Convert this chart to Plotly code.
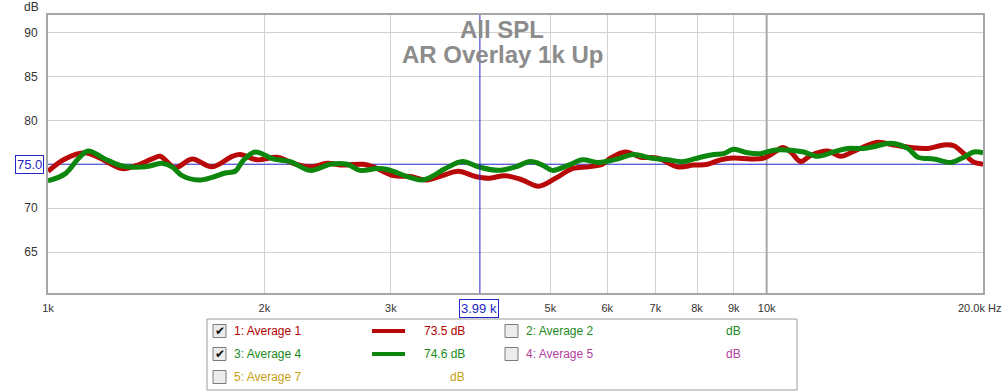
import plotly.graph_objects as go

# ---------------- data ----------------
red_freq = [1000, 1056, 1126, 1174, 1268, 1322, 1396, 1432, 1503, 1587, 1692, 1805, 1851, 1955,
            2084, 2194, 2317, 2447, 2575, 2746, 2836, 3024, 3193, 3350, 3538, 3724, 3932, 4101,
            4330, 4574, 4814, 5084, 5368, 5651, 5909, 6062, 6363, 6675, 7050, 7516, 7912, 8276,
            8628, 8995, 9500, 9904, 10226, 10526, 10800, 11151, 11515, 12162, 12680, 13390,
            14274, 15025, 15867, 16757, 17640, 18216, 18810, 19360, 20000]
red_db = [74.2, 75.6, 76.3, 75.8, 74.5, 74.8, 75.6, 75.9, 74.6, 75.6, 74.7, 75.9, 76.1, 75.5,
          75.8, 75.1, 74.7, 75.1, 74.9, 75.0, 74.7, 73.7, 73.6, 73.2, 73.7, 74.2, 73.6, 73.4,
          73.7, 73.2, 72.5, 73.4, 74.5, 74.7, 75.0, 75.7, 76.4, 75.8, 75.7, 74.7, 74.9, 75.0,
          75.5, 75.7, 75.6, 75.7, 76.3, 76.9, 76.4, 75.3, 76.0, 76.5, 75.9, 76.7,
          77.5, 77.2, 76.9, 76.8, 77.2, 77.1, 76.2, 75.3, 75.0]

green_freq = [1000, 1056, 1101, 1137, 1200, 1268, 1365, 1441, 1488, 1537, 1618, 1692, 1764, 1822,
              1868, 1942, 2057, 2173, 2317, 2471, 2609, 2719, 2872, 2966, 3162, 3298, 3383, 3573,
              3772, 3971, 4235, 4472, 4692, 4875, 5035, 5301, 5544, 5834, 6201, 6528, 6894, 7280,
              7661, 8090, 8435, 8710, 8995, 9408, 9808, 10226, 10800, 11259, 11776, 12396, 12966,
              13650, 14093, 14880, 15720, 16232, 17087, 18040, 18810, 19427, 20000]
green_db = [73.1, 73.9, 75.6, 76.5, 75.6, 74.8, 74.7, 75.1, 74.7, 73.7, 73.2, 73.5, 74.0, 74.2,
            75.4, 76.4, 75.6, 75.3, 74.3, 75.0, 75.0, 74.3, 74.5, 74.4, 73.6, 73.2, 73.4, 74.5,
            75.3, 74.7, 74.3, 74.7, 75.3, 74.9, 74.3, 74.9, 75.5, 75.2, 75.6, 76.1, 75.7, 75.5,
            75.3, 75.8, 76.1, 76.2, 76.7, 76.3, 76.2, 76.6, 76.6, 76.4, 75.9, 76.4, 76.8,
            76.8, 77.0, 77.4, 76.8, 75.8, 75.6, 75.2, 75.8, 76.4, 76.3]

x_tickvals = [1000, 2000, 3000, 5000, 6000, 7000, 8000, 9000, 10000]
x_ticktext = ["1k", "2k", "3k", "5k", "6k", "7k", "8k", "9k", "10k"]
y_tickvals = [65, 70, 80, 85, 90]

cursor_freq = 3990
cursor_db = 75.0

legend_names = ["1: Average 1", "2: Average 2", "3: Average 4", "4: Average 5", "5: Average 7"]
legend_values = ["73.5 dB", "dB", "74.6 dB", "dB", "dB"]
legend_checked = [True, False, True, False, False]

RED = "#b80808"
GREEN = "#0c860c"
PURPLE = "#b4409c"
GOLD = "#c8a214"
BLUE = "#2525c8"
legend_colors = ["#b00000", "#1a8a1a", "#1a8a1a", PURPLE, GOLD]

# ---------------- geometry helpers ----------------
W, H = 1005, 392
L, R, T, B = 48, 983, 15, 293


def px(x):
    return (x - L) / (R - L)


def py(y):
    return (B - y) / (B - T)


def note(text, x, y, size=12, color="#333", xanchor="center", family="Liberation Sans, Arial", **kw):
    d = dict(text=text, x=px(x), y=py(y), xref="paper", yref="paper", xanchor=xanchor,
             yanchor="middle", showarrow=False, font=dict(family=family, size=size, color=color))
    d.update(kw)
    return d


fig = go.Figure()

# 10k darker grid line
fig.add_trace(go.Scatter(x=[10000, 10000], y=[60.33, 92], mode="lines",
                         line=dict(color="#a8a8a8", width=2), hoverinfo="skip", showlegend=False))
# horizontal cursor
fig.add_trace(go.Scatter(x=[1000, 20000], y=[cursor_db, cursor_db], mode="lines",
                         line=dict(color=BLUE, width=1), hoverinfo="skip", showlegend=False))
# curves
fig.add_trace(go.Scatter(x=red_freq, y=red_db, mode="lines",
                         line=dict(color=RED, width=5, shape="spline", smoothing=1.0),
                         showlegend=False))
fig.add_trace(go.Scatter(x=green_freq, y=green_db, mode="lines",
                         line=dict(color=GREEN, width=5, shape="spline", smoothing=1.0),
                         showlegend=False))
# vertical cursor
fig.add_trace(go.Scatter(x=[cursor_freq, cursor_freq], y=[60.33, 92], mode="lines",
                         line=dict(color=BLUE, width=1), hoverinfo="skip", showlegend=False))

annotations = []
shapes = []

# title
annotations.append(note("<b>All SPL</b>", 502, 29, size=24, color="#8c8c8c"))
annotations.append(note("<b>AR Overlay 1k Up</b>", 502, 54, size=24, color="#8c8c8c"))

# dB label
annotations.append(note("dB", 41, 7, size=12, xanchor="right"))
# Hz end label
annotations.append(note("20.0k Hz", 1003, 308, size=11, xanchor="right",
                        family="Liberation Sans Narrow, Arial Narrow, Liberation Sans"))

# cursor value boxes
annotations.append(note("75.0", 29, 164.5, size=13, color=BLUE, bgcolor="white",
                        bordercolor=BLUE, borderwidth=1, borderpad=1))
annotations.append(note("3.99 k", 479, 308, size=13, color=BLUE, bgcolor="white",
                        bordercolor=BLUE, borderwidth=1, borderpad=1))

# legend box
shapes.append(dict(type="rect", xref="paper", yref="paper", x0=px(207), x1=px(797), y0=py(390), y1=py(319),
                   line=dict(color="#9a9a9a", width=1), fillcolor="white", layer="below"))

rows_y = [331, 354, 377]
slots = [(0, 0), (0, 1), (1, 0), (1, 1), (2, 0)]
line_samples = {0: RED, 2: GREEN}
for i, (r, c) in enumerate(slots):
    yy = rows_y[r]
    cb_x = 213 if c == 0 else 505
    shapes.append(dict(type="rect", xref="paper", yref="paper", x0=px(cb_x), x1=px(cb_x + 13),
                       y0=py(yy + 6.5), y1=py(yy - 6.5), line=dict(color="#7a7a7a", width=1),
                       fillcolor="#ececec"))
    if legend_checked[i]:
        annotations.append(note("✔", cb_x + 6.5, yy, size=12, color="#111", family="DejaVu Sans"))
    annotations.append(note(legend_names[i], cb_x + 19, yy, size=12, color=legend_colors[i], xanchor="left"))
    val_right = 467 if c == 0 else 743
    annotations.append(note(legend_values[i], val_right, yy, size=12, color=legend_colors[i], xanchor="right"))
    if i in line_samples:
        shapes.append(dict(type="line", xref="paper", yref="paper", x0=px(372), x1=px(405),
                           y0=py(yy), y1=py(yy), line=dict(color=line_samples[i], width=4)))

fig.update_layout(
    width=W, height=H,
    margin=dict(l=L, r=W - R, t=T, b=H - B),
    paper_bgcolor="white", plot_bgcolor="white",
    showlegend=False,
    xaxis=dict(type="log", range=[3, 4.30103], tickvals=x_tickvals, ticktext=x_ticktext,
               showgrid=True, gridcolor="#d2d2d2", gridwidth=1, zeroline=False,
               showline=True, mirror=True, linecolor="#a6a6a6", linewidth=2, ticks="",
               ticklabelstandoff=4,
               tickfont=dict(family="Liberation Sans Narrow, Arial Narrow, Liberation Sans", size=11, color="#333")),
    yaxis=dict(range=[60.33, 92], tickvals=y_tickvals, showgrid=True, gridcolor="#d2d2d2", gridwidth=1,
               zeroline=False, showline=True, mirror=True, linecolor="#a6a6a6", linewidth=2, ticks="",
               ticklabelstandoff=6,
               tickfont=dict(family="Liberation Sans, Arial", size=12, color="#333")),
    annotations=annotations,
    shapes=shapes,
)

fig.write_html("out.html", config={"displayModeBar": False},
               post_script="document.body.style.margin='0px';")
